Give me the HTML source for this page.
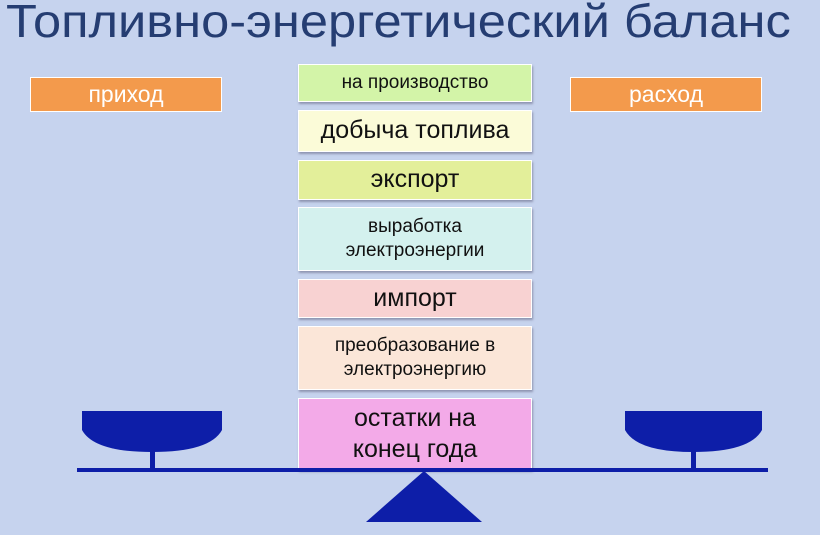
<!DOCTYPE html>
<html><head><meta charset="utf-8"><style>
body{margin:0;width:820px;height:535px;overflow:hidden;background:#c6d3ee;font-family:"Liberation Sans","Noto Sans CJK SC",sans-serif;position:relative}
.t{position:absolute;left:6px;top:-6px;font-size:46px;color:#253d72;white-space:nowrap;transform:scaleX(1.1);transform-origin:0 0}
.b{position:absolute;left:298px;width:234px;display:flex;align-items:center;justify-content:center;text-align:center;color:#111;border:1px solid #fff;box-sizing:border-box;box-shadow:1px 2px 2px rgba(90,90,120,.5);line-height:1.25}
.l{position:absolute;top:77px;height:35px;width:192px;background:#f39a4c;color:#fff;font-size:23px;display:flex;align-items:center;justify-content:center;border:1px solid #fff;box-sizing:border-box}
</style></head><body>
<div class="t">Топливно-энергетический баланс</div>
<div class="l" style="left:30px">приход</div>
<div class="l" style="left:570px">расход</div>
<div class="b" style="top:64px;height:38px;background:#d3f4a8;font-size:19px">на производство</div>
<div class="b" style="top:110px;height:42px;background:#fbfbd8;font-size:25px">добыча топлива</div>
<div class="b" style="top:160px;height:40px;background:#e3ef9a;font-size:25px">экспорт</div>
<div class="b" style="top:207px;height:64px;background:#d4f1ee;font-size:19px">выработка<br>электроэнергии</div>
<div class="b" style="top:279px;height:39px;background:#f8d2d2;font-size:25px">импорт</div>
<div class="b" style="top:326px;height:64px;background:#fbe6d8;font-size:19px">преобразование в<br>электроэнергию</div>
<div class="b" style="top:398px;height:72px;background:#f3aae8;font-size:25px">остатки на<br>конец года</div>
<svg width="820" height="535" style="position:absolute;left:0;top:0">
<g fill="#0d1ea8">
<rect x="77" y="468" width="691" height="4"/>
<path d="M82 411H222V430Q210 452 152 452Q94 452 82 430Z"/>
<rect x="150" y="450" width="5" height="20"/>
<path d="M625 411H762V430Q750 452 693 452Q637 452 625 430Z"/>
<rect x="691" y="450" width="5" height="20"/>
<path d="M424 471L482 522H366Z"/>
</g></svg>
</body></html>
